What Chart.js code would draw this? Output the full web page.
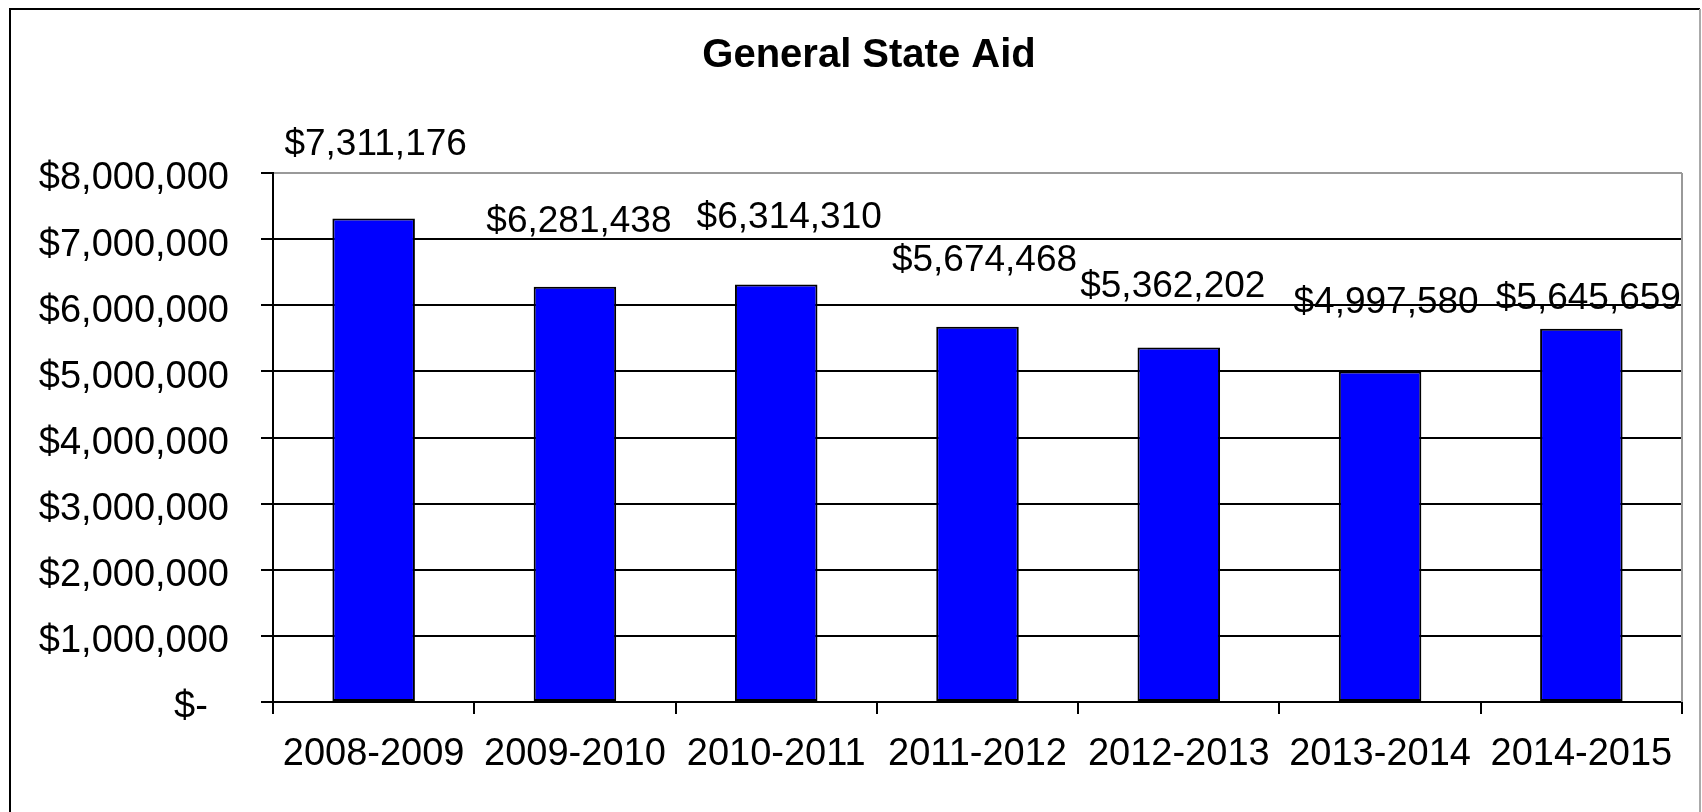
<!DOCTYPE html>
<html lang="en">
<head>
<meta charset="UTF-8">
<title>General State Aid</title>
<script src="https://cdn.jsdelivr.net/npm/chart.js"></script>
<style>
  html, body { margin: 0; padding: 0; background: #fff; }
  #wrap { width: 1702px; height: 812px; position: relative; }
</style>
</head>
<body>
<div id="wrap"><canvas id="grafico"></canvas></div>
<script>
const years = ['2008-2009', '2009-2010', '2010-2011', '2011-2012', '2012-2013', '2013-2014', '2014-2015'];
const stateAid = [7311176, 6281438, 6314310, 5674468, 5362202, 4997580, 5645659];
const yTickLabels = ['$-  ', '$1,000,000', '$2,000,000', '$3,000,000', '$4,000,000',
                     '$5,000,000', '$6,000,000', '$7,000,000', '$8,000,000'];
const titulo = 'General State Aid';

const fuente = '"Liberation Sans", Arial, sans-serif';

// etiquetas de valor colocadas a mano como en la hoja original
const etiquetasValor = {
    id: 'etiquetasValor',
    afterDatasetsDraw(chart, args, opts) {
        const ctx = chart.ctx;
        const meta = chart.getDatasetMeta(0);
        ctx.save();
        ctx.font = '37px ' + fuente;
        ctx.fillStyle = '#000';
        ctx.textAlign = 'center';
        ctx.textBaseline = 'middle';
        meta.data.forEach((bar, i) => {
            const v = chart.data.datasets[0].data[i];
            const txt = '$' + v.toLocaleString('en-US');
            ctx.fillText(txt, bar.x + opts.dx[i], bar.y - opts.dy[i]);
        });
        ctx.restore();
    }
};

// titulo y marcos (el titulo va algo a la derecha del centro, como en Excel)
const marcos = {
    id: 'marcos',
    afterDraw(chart) {
        const ctx = chart.ctx;
        const a = chart.chartArea;
        ctx.save();
        ctx.font = 'bold 40px ' + fuente;
        ctx.fillStyle = '#000';
        ctx.textAlign = 'center';
        ctx.textBaseline = 'middle';
        ctx.fillText(titulo, 869, 56);

        // borde derecho del area de trazado
        ctx.strokeStyle = '#999';
        ctx.lineWidth = 2;
        ctx.beginPath();
        ctx.moveTo(a.right, a.top);
        ctx.lineTo(a.right, a.bottom);
        ctx.stroke();
        // marco exterior
        ctx.strokeStyle = '#000';
        ctx.beginPath();
        ctx.moveTo(10, 820);
        ctx.lineTo(10, 9);
        ctx.lineTo(1700, 9);
        ctx.stroke();
        ctx.strokeStyle = '#aaa';
        ctx.beginPath();
        ctx.moveTo(1700, 9);
        ctx.lineTo(1700, 820);
        ctx.stroke();
        ctx.restore();
    }
};

new Chart(document.getElementById('grafico'), {
    type: 'bar',
    data: {
        labels: years,
        datasets: [{
            label: titulo,
            data: stateAid,
            backgroundColor: '#0000FF',
            borderColor: '#000',
            borderWidth: 2,
            borderSkipped: false,
            categoryPercentage: 1,
            barPercentage: 0.41
        }]
    },
    options: {
        responsive: true,
        maintainAspectRatio: false,
        animation: false,
        layout: { padding: { left: 10, right: 20, top: 173, bottom: 0 } },
        plugins: {
            legend: { display: false },
            tooltip: { enabled: false },
            title: { display: false },
            etiquetasValor: {
                dx: [2, 4, 13, 7, -6, 6, 7],
                dy: [74, 65, 67, 66, 61, 69, 30]
            }
        },
        scales: {
            x: {
                grid: {
                    offset: true,
                    drawOnChartArea: false,
                    drawTicks: true,
                    tickLength: 12,
                    color: '#000',
                    lineWidth: 2
                },
                border: { color: '#000', width: 2 },
                ticks: {
                    color: '#000',
                    font: { family: fuente, size: 38 },
                    padding: 18,
                    maxRotation: 0,
                    autoSkip: false
                },
                afterFit(scale) { scale.height = 110; }
            },
            y: {
                min: 0,
                max: 8000000,
                grid: {
                    color: c => (c.tick && c.tick.value === 8000000) ? '#999' : '#000',
                    tickColor: '#000',
                    lineWidth: 2,
                    tickLength: 12
                },
                border: { color: '#000', width: 2 },
                ticks: {
                    stepSize: 1000000,
                    color: '#000',
                    font: { family: fuente, size: 38 },
                    padding: 32,
                    labelOffset: 6,
                    callback: (value, index) => yTickLabels[index]
                },
                afterFit(scale) { scale.width = 263; }
            }
        }
    },
    plugins: [etiquetasValor, marcos]
});
</script>
</body>
</html>
